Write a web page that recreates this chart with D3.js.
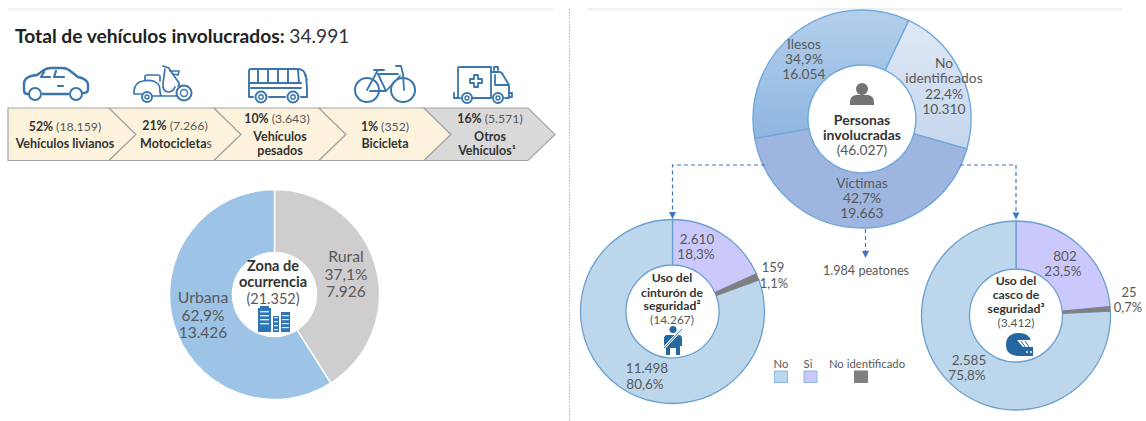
<!doctype html>
<html lang="es">
<head>
<meta charset="utf-8">
<title>Vehículos y personas involucradas</title>
<script src="https://cdn.jsdelivr.net/npm/d3@7"></script>
<style>
  html, body { margin: 0; padding: 0; background: #fff; }
  svg { display: block; font-family: Lato, "Open Sans", sans-serif; }
  text { fill: #595959; text-anchor: middle; }
  .b { font-weight: 700; fill: #333; }
  .icon { fill: none; stroke: #3a75ad; stroke-width: 2; stroke-linejoin: round; stroke-linecap: round; }
</style>
</head>
<body>
<div id="chart"></div>
<script>
// vehicles
var vehiclePct = ["52%", "21%", "10%", "1%", "16%"];
var vehicleCount = ["(18.159)", "(7.266)", "(3.643)", "(352)", "(5.571)"];

// zone of occurrence: printed values, and the share each slice really takes in the picture
var zoneNames = ["Rural", "Urbana"];
var zoneValues = [7926, 13426];
var zoneDrawnShare = [41, 59];
var zonePct = ["37,1%", "62,9%"];

// people
var peopleNames = ["No identificados", "Víctimas", "Ilesos"];
var peopleValues = [10310, 19663, 16054];

// belt and helmet, clockwise from the top: Si, No identificado, No
var useNames = ["Si", "No identificado", "No"];
var beltValues = [2610, 159, 11498];
var helmetValues = [802, 25, 2585];

var useColor = d3.scaleOrdinal().domain(useNames).range(["#cbc9fb", "#7f7f7f", "#bcd6ec"]);
var zoneColor = d3.scaleOrdinal().domain(zoneNames).range(["#cfcdcd", "#9dc3e6"]);

var svg = d3.select("#chart").append("svg").attr("width", 1146).attr("height", 421);
var defs = svg.append("defs");

function vGrad(id, c1, c2) {
  var g = defs.append("linearGradient").attr("id", id).attr("x1", 0).attr("y1", 0).attr("x2", 0).attr("y2", 1);
  g.append("stop").attr("offset", "0%").attr("stop-color", c1);
  g.append("stop").attr("offset", "100%").attr("stop-color", c2);
}
vGrad("gIlesos", "#b3cfeb", "#8fb6e1");
vGrad("gNoId", "#dfe8f5", "#c5d6ed");

var peopleColor = d3.scaleOrdinal().domain(peopleNames).range(["url(#gNoId)", "#9db5df", "url(#gIlesos)"]);

// helper for one line of text
function label(txt, x, y, size, cls) {
  return svg.append("text").attr("x", x).attr("y", y).attr("font-size", size).attr("class", cls || null).text(txt);
}

// header bars and divider
svg.append("rect").attr("x", 8).attr("y", 8).attr("width", 545).attr("height", 2.5).attr("fill", "#eff0f4");
svg.append("rect").attr("x", 587).attr("y", 8).attr("width", 535).attr("height", 2.5).attr("fill", "#eff0f4");
svg.append("line").attr("x1", 569.5).attr("x2", 569.5).attr("y1", 9).attr("y2", 421)
  .attr("stroke", "#b5b5b5").attr("stroke-dasharray", "1.5 1.5");

// title
var title = svg.append("text").attr("x", 15).attr("y", 43).attr("font-size", 19.2).style("text-anchor", "start");
title.append("tspan").attr("font-weight", 700).attr("fill", "#222").text("Total de vehículos involucrados: ");
title.append("tspan").attr("fill", "#333").text("34.991");

// chevron band
var chevX = [8, 109, 214, 319, 424, 528];
var chevTop = 108, chevBot = 160.5, chevMid = 134.5, chevTip = 27;
vehiclePct.forEach(function(p, i) {
  var x0 = chevX[i], x1 = chevX[i + 1];
  var notch = i === 0 ? "" : "L" + (x0 + chevTip) + "," + chevMid;
  svg.append("path")
    .attr("d", "M" + x0 + "," + chevTop + "L" + x1 + "," + chevTop + "L" + (x1 + chevTip) + "," + chevMid +
      "L" + x1 + "," + chevBot + "L" + x0 + "," + chevBot + notch + "Z")
    .attr("fill", i === 4 ? "#d9d9d9" : "#fdf3dc")
    .attr("stroke", "#a6a6a6").attr("stroke-width", 1.2);
});
[[65, 131], [175, 130], [277, 123], [385, 131], [490, 123]].forEach(function(pos, i) {
  var t = svg.append("text").attr("x", pos[0]).attr("y", pos[1]).attr("font-size", 12.3);
  t.append("tspan").attr("font-weight", 700).attr("fill", "#333").text(vehiclePct[i] + " ");
  t.append("tspan").text(vehicleCount[i]);
});
label("Vehículos livianos", 65, 148, 12.5, "b");
var moto = svg.append("text").attr("x", 176).attr("y", 148).attr("font-size", 12.5);
moto.append("tspan").attr("font-weight", 700).attr("fill", "#333").text("Motocicleta");
moto.append("tspan").text("s");
label("Vehículos", 280, 141, 12.5, "b");
label("pesados", 280, 155, 12.5, "b");
label("Bicicleta", 385, 148, 12.5, "b");
label("Otros", 490, 141, 12.5, "b");
label("Vehículos¹", 487, 155, 12.5, "b");

// vehicle icons
var icons = svg.append("g").attr("class", "icon");
function wheel(x, y, r, inner) {
  icons.append("circle").attr("cx", x).attr("cy", y).attr("r", r);
  if (inner) icons.append("circle").attr("cx", x).attr("cy", y).attr("r", inner).attr("stroke-width", 1.4);
}
function ipath(d, w) {
  var p = icons.append("path").attr("d", d);
  if (w) p.attr("stroke-width", w);
}
// car
ipath("M29 94h-2q-3 0-3-4v-6q0-6 7-8l6-1 7-5q3-2 7-2h11q4 0 7 2l9 7q9 2 10 7v5q0 4-4 4h-2M43 94h25", 2.4);
ipath("M41 77l3-5M41 77h9M56 71l-2 6h10M58 86h5", 2.2);
wheel(35, 94, 6); wheel(76, 94, 6);
// scooter
ipath("M134 91q1-9 9-10q10-2 15 3q2 2 2 8l1 4h15M134 91v3h8M153 96h8", 1.7);
ipath("M165 69l-2 14q-1 8 5 9q5 0 7-5M170 70l9 13q1 2-1 3", 1.7);
ipath("M145 80v-3q0-2 2-2h11q2 0 2 2v4M163 66l6 2 1 3h9l-1 4-5-1", 1.7);
wheel(147, 97, 5, 2); wheel(184, 93, 7.5, 3.5);
// bus
ipath("M251 69h47q6 0 8 7l1 12v9h-6M285 97h-16M253 97h-4V71q0-2 2-2M249 83h52M251 88h50M258 70v13M268 70v13M278 70v13M288 70v13M298 70l1 13M305 75l2 5", 1.9);
wheel(261, 97, 5.5, 2.2); wheel(293, 97, 5.5, 2.2);
// bicycle
wheel(367, 90, 12); wheel(403, 90, 12);
ipath("M367 90l11-20M370 91h16l14-15M378 74h20M374 70h10M396 66h5l2 8 1 16M386 91l-8-17", 1.8);
// ambulance
ipath("M460 98h-2v-30q0-1 2-1h31v31h-18M491 72h8q3 0 4 3l6 10v13h-4M454 93v5h6M484 98h7M470 79h4v-4h4v4h4v4h-4v4h-4v-4h-4z", 1.8);
ipath("M494 70v-3h4v3M495 75v10h13M509 93h3v4h-3", 1.8);
wheel(467, 98, 5, 2); wheel(498, 98, 5, 2);

// donut helper; start is the angle of the first slice in degrees
function donut(values, cx, cy, r0, r1, start, fills, stroke, strokeW) {
  var a0 = start * Math.PI / 180;
  var pie = d3.pie().sort(null).startAngle(a0).endAngle(a0 + 2 * Math.PI);
  var arc = d3.arc().innerRadius(r0).outerRadius(r1);
  var paths = svg.append("g").attr("transform", "translate(" + cx + "," + cy + ")")
    .selectAll("path").data(pie(values)).enter().append("path")
    .attr("d", arc)
    .attr("fill", function(d, i) { return fills(i); })
    .attr("stroke", stroke)
    .attr("stroke-width", strokeW);
  return paths;
}
// the grey "No identificado" wedge sits on top of its neighbours' outlines
function greyOnTop(paths) {
  paths.filter(function(d, i) { return i === 1; }).attr("stroke", "#7f7f7f").attr("stroke-width", 0.8).raise();
}

// zone donut
donut(zoneDrawnShare, 274.5, 294.5, 42, 105, 0, function(i) { return zoneColor(zoneNames[i]); }, "#fff", 1.5);
[["Rural", 346, 262, 0], ["Urbana", 203, 303, 1]].forEach(function(z) {
  label(z[0], z[1], z[2], 15.8);
  label(zonePct[z[3]], z[1], z[2] + 17.5, 15.5);
  label(d3.format(",")(zoneValues[z[3]]).replace(",", "."), z[1], z[2] + 35, 15.5);
});
label("Zona de", 273, 271, 14.5, "b");
label("ocurrencia", 273, 287, 14.5, "b");
label("(21.352)", 273, 304, 14.5);
// buildings
var city = svg.append("g").attr("fill", "#2e75b6");
city.append("rect").attr("x", 258).attr("y", 308).attr("width", 13).attr("height", 24);
city.append("rect").attr("x", 260).attr("y", 306).attr("width", 9).attr("height", 3);
city.append("rect").attr("x", 273).attr("y", 316).attr("width", 6).attr("height", 16);
city.append("rect").attr("x", 281).attr("y", 312).attr("width", 9).attr("height", 20);
[311, 315, 319, 323].forEach(function(y) {
  city.append("rect").attr("x", 260).attr("y", y).attr("width", 9).attr("height", 1.4).attr("fill", "#dcebf7");
  city.append("rect").attr("x", 282).attr("y", y + 4).attr("width", 7).attr("height", 1.2).attr("fill", "#dcebf7");
  city.append("rect").attr("x", 274).attr("y", y + 6).attr("width", 4).attr("height", 1.2).attr("fill", "#dcebf7");
});

// people donut
donut(peopleValues, 862, 119, 54, 109, 25.3, function(i) { return peopleColor(peopleNames[i]); }, "#6fa8dc", 1.4);
label("Ilesos", 804, 49, 13.8);
label("34,9%", 804, 64, 13.8);
label("16.054", 804, 79, 13.8);
label("No", 944, 68, 13.8);
label("identificados", 944, 83, 13.8);
label("22,4%", 944, 99, 13.8);
label("10.310", 944, 114, 13.8);
label("Víctimas", 862, 188, 13.8);
label("42,7%", 862, 203, 13.8);
label("19.663", 862, 218, 13.8);
label("Personas", 862, 125, 14, "b");
label("involucradas", 862, 140, 14, "b");
label("(46.027)", 862, 155, 13.8);
// person
svg.append("circle").attr("cx", 862).attr("cy", 89).attr("r", 6).attr("fill", "#737373");
svg.append("path").attr("d", "M850 105v-3q0-6 6-7h12q6 1 6 7v3z").attr("fill", "#737373");

// connectors
function connector(d) {
  svg.append("path").attr("d", d).attr("fill", "none").attr("stroke", "#4472c4")
    .attr("stroke-width", 1.2).attr("stroke-dasharray", "4 3");
}
function arrowDown(x, tip) {
  svg.append("path").attr("d", "M" + (x - 3.5) + "," + (tip - 7) + "H" + (x + 3.5) + "L" + x + "," + tip + "Z").attr("fill", "#4472c4");
}
connector("M765 165H672.5V213");
arrowDown(672.5, 219);
connector("M960 165H1016V213");
arrowDown(1016, 219.5);
connector("M865.5 229V252");
arrowDown(865.5, 258);
label("1.984 peatones", 866, 275, 12.6);

// belt donut
greyOnTop(donut(beltValues, 672.5, 311.5, 46.5, 92, 0, function(i) { return useColor(useNames[i]); }, "#6a9fcf", 1.3));
label("2.610", 697, 244, 13.5);
label("18,3%", 696, 259, 13.5);
label("159", 773, 272, 13);
label("1,1%", 774, 288, 13);
label("11.498", 647, 373, 13.5);
label("80,6%", 645, 389, 13.5);
label("Uso del", 672, 282, 12.2, "b");
label("cinturón de", 672, 297, 12.2, "b");
label("seguridad²", 672, 310, 12.2, "b");
label("(14.267)", 672, 324, 12);
// belted person
var belt = svg.append("g").attr("fill", "#2568a0");
belt.append("circle").attr("cx", 673).attr("cy", 329.5).attr("r", 3.5);
belt.append("path").attr("d", "M667 335h12q3 0 3 4v7h-2v9h-4v-7h-6v7h-4v-9h-2v-7q0-4 3-4z");
svg.append("path").attr("d", "M664 348l18-19").attr("stroke", "#fff").attr("stroke-width", 2.6).attr("fill", "none");
svg.append("path").attr("d", "M664 348l18-19").attr("stroke", "#2568a0").attr("stroke-width", 0.9).attr("fill", "none");

// helmet donut
greyOnTop(donut(helmetValues, 1016, 315.5, 46.5, 94.5, 0, function(i) { return useColor(useNames[i]); }, "#6a9fcf", 1.3));
label("802", 1065, 261, 13.5);
label("23,5%", 1063, 276, 13.5);
label("25", 1129, 297, 13);
label("0,7%", 1128, 312, 13);
label("2.585", 969, 365, 13.5);
label("75,8%", 967, 380, 13.5);
label("Uso del", 1016, 285, 12.2, "b");
label("casco de", 1016, 299, 12.2, "b");
label("seguridad³", 1016, 313, 12.2, "b");
label("(3.412)", 1016, 327, 12);
// helmet
svg.append("path").attr("d", "M1006 345q0-12 13-12q10 0 12 8l2 6v9h-13q-14 0-14-11z").attr("fill", "#2568a0");
svg.append("path").attr("d", "M1017 340h16v7h-10z").attr("fill", "#fff");
svg.append("path").attr("d", "M1021 341l4 6M1025 341l4 6").attr("stroke", "#2568a0").attr("stroke-width", 1);
svg.append("path").attr("d", "M1026 352h2M1030 352h2").attr("stroke", "#fff").attr("stroke-width", 1.6);

// legend
var legendPos = { "No": [781, 774.5], "Si": [808, 804], "No identificado": [867, 854.5] };
["No", "Si", "No identificado"].forEach(function(n) {
  label(n, legendPos[n][0], 368, 11.3);
  svg.append("rect").attr("x", legendPos[n][1]).attr("y", 371).attr("width", 13).attr("height", 11.5)
    .attr("fill", useColor(n)).attr("stroke", n === "No identificado" ? "#7f7f7f" : "#8db8de").attr("stroke-width", 1);
});
</script>
</body>
</html>
